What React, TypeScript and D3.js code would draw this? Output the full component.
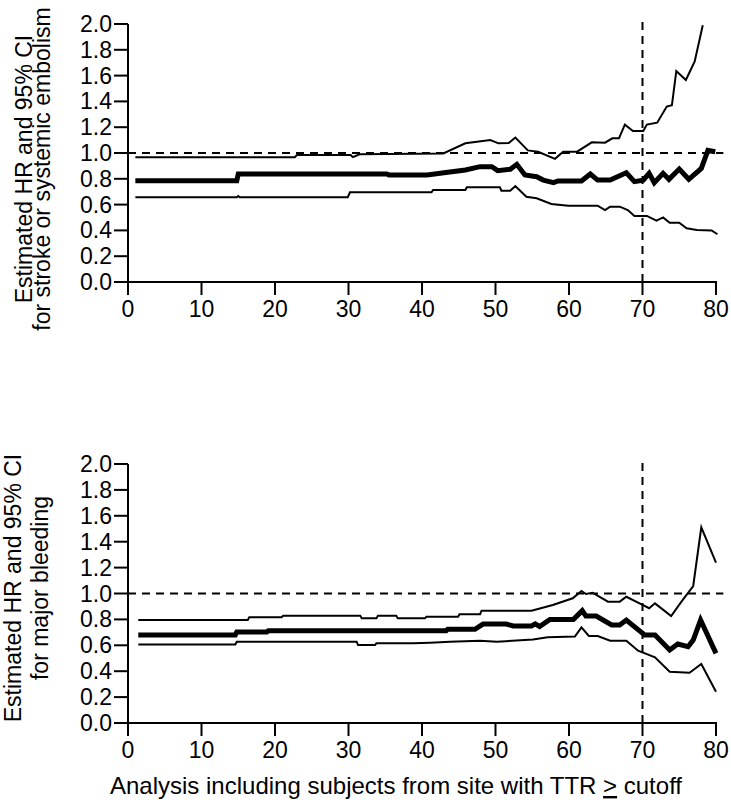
import React from "react";
import * as d3 from "d3";

type Pt = [number, number];

// ---------- data (cutoff TTR %, hazard ratio) ----------
const strokeUpper: Pt[] = [[1,0.967],[22.7,0.967],[23,0.985],[30.3,0.985],[30.6,0.968],[31.5,0.99],[42.9,0.997],[45.9,1.075],[49.3,1.10],[50.4,1.075],[51.8,1.078],[52.7,1.12],[54.4,1.02],[55.8,1.01],[58.1,0.955],[59.2,1.01],[61.1,1.01],[63.1,1.083],[64.9,1.08],[65.9,1.114],[66.8,1.114],[67.6,1.22],[68.7,1.17],[70.1,1.17],[70.6,1.22],[72,1.235],[73.3,1.36],[74,1.37],[74.6,1.636],[75.9,1.566],[77.1,1.71],[78.2,1.99]];
const strokeHR: Pt[] = [[1,0.785],[14.8,0.785],[15,0.837],[35.2,0.837],[35.5,0.83],[40.7,0.83],[43,0.847],[45.9,0.868],[47.9,0.894],[49.5,0.894],[50.3,0.863],[52,0.874],[52.9,0.912],[54,0.83],[55.6,0.816],[56.5,0.79],[57.9,0.77],[58.5,0.783],[61.7,0.783],[62.9,0.837],[63.9,0.79],[65.6,0.79],[67.8,0.847],[68.9,0.778],[70.1,0.79],[70.9,0.843],[71.6,0.77],[72.8,0.843],[73.6,0.796],[75,0.876],[76.3,0.796],[78,0.88],[78.9,1.02],[79.9,1.01]];
const strokeLower: Pt[] = [[1,0.657],[14.8,0.657],[15,0.667],[15.2,0.657],[29.9,0.657],[30.2,0.695],[41.3,0.695],[41.5,0.713],[45.9,0.713],[46.1,0.734],[50.6,0.734],[50.8,0.708],[52,0.708],[52.7,0.744],[54.2,0.661],[55.6,0.649],[57.6,0.605],[59.9,0.592],[63.9,0.592],[64.9,0.558],[65.6,0.584],[66.9,0.584],[68,0.558],[68.9,0.512],[70.6,0.512],[71.9,0.475],[72.8,0.501],[73.7,0.46],[75,0.46],[76,0.416],[77.4,0.403],[79.4,0.40],[80.2,0.37]];

const bleedUpper: Pt[] = [[1.4,0.795],[16.3,0.795],[16.5,0.816],[20.9,0.816],[21.1,0.829],[31.6,0.829],[31.8,0.808],[33.8,0.808],[34,0.829],[36.5,0.829],[36.7,0.808],[40.4,0.808],[40.6,0.821],[44.9,0.821],[45.1,0.839],[47.9,0.839],[48.1,0.867],[54.9,0.867],[57.8,0.911],[60.5,0.963],[61.7,1.02],[62.3,0.996],[63.2,1.006],[65.3,0.937],[66.9,0.937],[67.8,0.975],[69.4,0.929],[70.9,0.886],[71.7,0.924],[73.9,0.826],[75.3,0.937],[76.9,1.058],[78,1.511],[80,1.238]];
const bleedHR: Pt[] = [[1.4,0.68],[14.6,0.68],[14.8,0.703],[18.9,0.703],[19.1,0.713],[43.3,0.713],[43.5,0.724],[47.2,0.724],[48.3,0.764],[51.5,0.764],[52.4,0.749],[54.9,0.749],[55.4,0.765],[56,0.745],[57.4,0.80],[60.6,0.80],[61.8,0.867],[62.3,0.826],[63.7,0.826],[65.8,0.757],[66.9,0.757],[67.8,0.795],[70.3,0.68],[71.7,0.68],[73.7,0.564],[74.8,0.61],[76.2,0.589],[76.9,0.641],[77.9,0.795],[80,0.538]];
const bleedLower: Pt[] = [[1.4,0.607],[14.6,0.607],[14.8,0.628],[31.1,0.628],[31.3,0.602],[33.6,0.602],[33.8,0.615],[38.8,0.615],[41.1,0.62],[43.8,0.628],[47.9,0.635],[50.2,0.628],[55.1,0.645],[57.1,0.662],[60.8,0.667],[61.7,0.739],[62.7,0.672],[63.9,0.672],[65.6,0.636],[67.8,0.636],[69.4,0.558],[71.7,0.507],[73.7,0.396],[76.4,0.388],[78,0.456],[80,0.242]];

const xTicks = [0, 10, 20, 30, 40, 50, 60, 70, 80];
const yTicks = [0, 0.2, 0.4, 0.6, 0.8, 1.0, 1.2, 1.4, 1.6, 1.8, 2.0];
const refHR = 1.0;
const refCutoff = 70;

const topLabel = ["Estimated HR and 95% CI", "for stroke or systemic embolism"];
const bottomLabel = ["Estimated HR and 95% CI", "for major bleeding"];

const FONT = "'Liberation Sans', Arial, Helvetica, sans-serif";

interface PanelProps {
  upper: Pt[];
  hr: Pt[];
  lower: Pt[];
  yTop: number;
  yBottom: number;
  label: string[];
  labelX: [number, number];
  labelY: number;
}

function Panel({ upper, hr, lower, yTop, yBottom, label, labelX, labelY }: PanelProps) {
  const x = d3.scaleLinear().domain([0, 80]).range([128, 716]);
  const y = d3.scaleLinear().domain([0, 2]).range([yBottom, yTop]);
  const line = d3.line<Pt>().x((d) => x(d[0])).y((d) => y(d[1]));
  const fmt = d3.format(".1f");
  return (
    <g>
      {/* reference lines */}
      <line x1={x(0)} x2={x(81)} y1={y(refHR)} y2={y(refHR)} stroke="#000" strokeWidth={2} strokeDasharray="8,6" />
      <line x1={x(refCutoff)} x2={x(refCutoff)} y1={y(0)} y2={y(2.05)} stroke="#000" strokeWidth={2} strokeDasharray="8,6" />
      {/* series */}
      <path d={line(upper) || ""} fill="none" stroke="#000" strokeWidth={2} strokeLinejoin="miter" />
      <path d={line(lower) || ""} fill="none" stroke="#000" strokeWidth={2} strokeLinejoin="miter" />
      <path d={line(hr) || ""} fill="none" stroke="#000" strokeWidth={5} strokeLinejoin="miter" />
      {/* axes */}
      <line x1={x(0)} x2={x(0)} y1={y(0) + 1} y2={y(2)} stroke="#000" strokeWidth={2} />
      <line x1={x(0) - 1} x2={x(80) + 1} y1={y(0)} y2={y(0)} stroke="#000" strokeWidth={2} />
      {yTicks.map((t) => (
        <g key={"y" + t}>
          <line x1={x(0) - 14} x2={x(0)} y1={y(t)} y2={y(t)} stroke="#000" strokeWidth={2} />
          <text x={x(0) - 16} y={y(t) + 8} textAnchor="end" fontSize={23} fontFamily={FONT}>{fmt(t)}</text>
        </g>
      ))}
      {xTicks.map((t) => (
        <g key={"x" + t}>
          <line x1={x(t)} x2={x(t)} y1={y(0)} y2={y(0) + 13} stroke="#000" strokeWidth={2} />
          <text x={x(t)} y={y(0) + 35} textAnchor="middle" fontSize={23} fontFamily={FONT}>{t}</text>
        </g>
      ))}
      {label.map((l, i) => (
        <text key={l} transform={`translate(${labelX[i]},${labelY}) rotate(-90)`} textAnchor="middle" fontSize={23} fontFamily={FONT}>{l}</text>
      ))}
    </g>
  );
}

export default function App() {
  return (
    <svg width={731} height={800} style={{ position: "absolute", left: 0, top: 0, background: "#fff" }}>
      <rect width={731} height={800} fill="#fff" />
      <Panel upper={strokeUpper} hr={strokeHR} lower={strokeLower} yTop={24} yBottom={282} label={topLabel} labelX={[32, 50]} labelY={169} />
      <Panel upper={bleedUpper} hr={bleedHR} lower={bleedLower} yTop={464} yBottom={723} label={bottomLabel} labelX={[21, 48]} labelY={588} />
      <text x={110} y={794} fontSize={24} fontFamily={FONT}>
        Analysis including subjects from site with TTR <tspan style={{ textDecoration: "underline" }}>{">"}</tspan> cutoff
      </text>
    </svg>
  );
}
